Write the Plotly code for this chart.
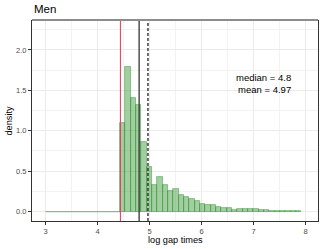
import numpy as np
import plotly.graph_objects as go

# ---- data ----
bin_start = 3.0
bin_width = 0.1025
density = [0.0] * 14 + [
    1.09, 1.79, 1.40, 1.32, 0.86, 0.55, 0.33, 0.43, 0.33, 0.26,
    0.28, 0.20, 0.175, 0.155, 0.13, 0.09, 0.08, 0.078, 0.055, 0.05,
    0.04, 0.025, 0.037, 0.033, 0.03, 0.03, 0.02, 0.018, 0.012, 0.01,
    0.008, 0.007, 0.005, 0.004,
]
threshold = 4.44
median_val = 4.8
mean_val = 4.97
title_text = "Men"
x_title = "log gap times"
y_title = "density"
x_ticks = [3, 4, 5, 6, 7, 8]
y_ticks = [0.0, 0.5, 1.0, 1.5, 2.0]
y_tick_labels = ["0.0", "0.5", "1.0", "1.5", "2.0"]

# ---- derived ----
n = len(density)
edges = [bin_start + i * bin_width for i in range(n + 1)]
centers = [(edges[i] + edges[i + 1]) / 2 for i in range(n)]
zero_idx = [i for i, d in enumerate(density) if d == 0]
bar_x = [centers[i] for i, d in enumerate(density) if d > 0]
bar_y = [d for d in density if d > 0]

W, H = 324, 249
L, R, T, B = 32, 6, 20, 27.5
font_family = "Liberation Sans, Arial, sans-serif"

fig = go.Figure()
# flat line for empty bins
fig.add_trace(go.Scatter(
    x=[edges[zero_idx[0]], edges[zero_idx[-1] + 1]], y=[0, 0],
    mode="lines", line=dict(color="rgba(34,139,34,0.5)", width=1.2),
    showlegend=False, hoverinfo="skip"))
fig.add_trace(go.Bar(
    x=bar_x, y=bar_y, width=bin_width,
    marker=dict(color="rgba(34,139,34,0.42)",
                line=dict(color="rgba(34,139,34,0.55)", width=0.8)),
    showlegend=False))

fig.add_shape(type="line", x0=threshold, x1=threshold, y0=0, y1=1,
              xref="x", yref="paper", line=dict(color="#EE3355", width=1))
fig.add_shape(type="line", x0=median_val, x1=median_val, y0=0, y1=1,
              xref="x", yref="paper", line=dict(color="#333333", width=1.3))
fig.add_shape(type="line", x0=mean_val, x1=mean_val, y0=0, y1=1,
              xref="x", yref="paper", line=dict(color="#222222", width=1.3, dash="3px,2px"))
# top border (lighter)
fig.add_shape(type="line", x0=0, x1=1, y0=1, y1=1, xref="paper", yref="paper",
              line=dict(color="#8C8C8C", width=2))

fig.add_annotation(
    x=7.2, y=1.59, xref="x", yref="y",
    text=f"median = {median_val}<br>mean = {mean_val}",
    showarrow=False, align="right", xanchor="center", yanchor="middle",
    font=dict(family=font_family, size=9.5, color="black"))

# title
fig.add_annotation(
    x=0, xref="paper", xanchor="left", xshift=0,
    y=1, yref="paper", yanchor="middle", yshift=(T - 9),
    text=title_text, showarrow=False,
    font=dict(family=font_family, size=11.5, color="black"))
# x axis title
fig.add_annotation(
    x=0.5, xref="paper", xanchor="center",
    y=0, yref="paper", yanchor="middle", yshift=-(240.5 - (H - B)),
    text=x_title, showarrow=False,
    font=dict(family=font_family, size=9.2, color="black"))
# y axis title
fig.add_annotation(
    x=0, xref="paper", xanchor="center", xshift=-(L - 8),
    y=0.5, yref="paper", yanchor="middle",
    text=y_title, textangle=-90, showarrow=False,
    font=dict(family=font_family, size=9.2, color="black"))

fig.update_layout(
    width=W, height=H,
    margin=dict(l=L, r=R, t=T, b=B, autoexpand=False),
    paper_bgcolor="white", plot_bgcolor="white",
    bargap=0,
    font=dict(family=font_family),
)
fig.update_xaxes(
    range=[2.74, 8.24], tickvals=x_ticks, ticktext=[str(t) for t in x_ticks],
    automargin=False,
    showgrid=True, gridcolor="#EBEBEB", gridwidth=1,
    minor=dict(dtick=0.5, tick0=0, showgrid=True, gridcolor="#F3F3F3", gridwidth=0.6),
    zeroline=False, showline=True, linecolor="#333333", linewidth=1, mirror=False,
    ticks="outside", ticklen=2.5, tickcolor="#333333", tickwidth=1,
    tickfont=dict(size=7.5, color="#4D4D4D"),
)
fig.update_yaxes(
    range=[-0.117, 2.37], tickvals=y_ticks, ticktext=y_tick_labels,
    automargin=False,
    showgrid=True, gridcolor="#EBEBEB", gridwidth=1,
    minor=dict(dtick=0.25, tick0=0, showgrid=True, gridcolor="#F3F3F3", gridwidth=0.6),
    zeroline=False, showline=True, linecolor="#333333", linewidth=1, mirror=True,
    ticks="outside", ticklen=3, tickcolor="#333333", tickwidth=1,
    tickfont=dict(size=7.5, color="#4D4D4D"),
)

fig.write_html("out.html", config={"displayModeBar": False},
               post_script="document.body.style.margin='0';document.body.style.padding='0';")
